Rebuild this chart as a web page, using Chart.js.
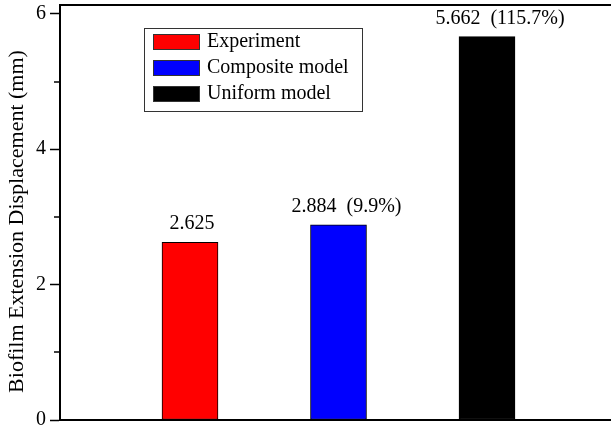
<!DOCTYPE html>
<html>
<head>
<meta charset="utf-8">
<script src="https://cdn.jsdelivr.net/npm/chart.js@4/dist/chart.umd.min.js"></script>
<style>
  html, body { margin: 0; padding: 0; background: #fff; }
  #wrap { width: 611px; height: 428px; }
</style>
</head>
<body>
<div id="wrap"><canvas id="c" width="611" height="428"></canvas></div>
<script>
// Series names, positions on the x axis and measured displacements (mm)
const seriesNames = ['Experiment', 'Composite model', 'Uniform model'];
const xPositions = [1, 2, 3];
const displacement = [2.625, 2.884, 5.662];
const valueLabels = ['2.625', '2.884  (9.9%)', '5.662  (115.7%)'];
const barColors = ['#ff0000', '#0000ff', '#000000'];
const yTicks = [0, 2, 4, 6];
const yMinorTicks = [1, 3, 5];
const yTitle = 'Biofilm Extension Displacement (mm)';

const FONT = '"Liberation Serif", "Times New Roman", serif';

const datasets = seriesNames.map((name, i) => ({
  label: name,
  data: [{ x: xPositions[i], y: displacement[i] }],
  backgroundColor: barColors[i],
  borderColor: '#000000',
  borderWidth: 1,
  borderSkipped: false,
  barThickness: 56,
  grouped: false
}));

// Frame, minor ticks, axis title, value labels and legend box
const decorations = {
  id: 'decorations',
  afterDatasetsDraw(chart, args, opts) {
    const { ctx, chartArea: a, scales: { x, y } } = chart;
    ctx.save();
    // top frame line
    ctx.strokeStyle = '#000';
    ctx.lineWidth = 2;
    ctx.beginPath();
    ctx.moveTo(a.left - 1, a.top);
    ctx.lineTo(a.right, a.top);
    ctx.stroke();
    // minor ticks on the y axis
    ctx.lineWidth = 1.5;
    yMinorTicks.forEach(v => {
      const py = Math.round(y.getPixelForValue(v));
      ctx.beginPath();
      ctx.moveTo(a.left - 6, py);
      ctx.lineTo(a.left, py);
      ctx.stroke();
    });
    // rotated y axis title
    ctx.fillStyle = '#000';
    ctx.font = '22px ' + FONT;
    ctx.textAlign = 'center';
    ctx.textBaseline = 'middle';
    ctx.save();
    ctx.translate(opts.titleX, (a.top + a.bottom) / 2 + opts.titleShift);
    ctx.rotate(-Math.PI / 2);
    ctx.fillText(yTitle, 0, 0);
    ctx.restore();
    // value labels above the bars
    ctx.font = '20px ' + FONT;
    ctx.textAlign = 'center';
    ctx.textBaseline = 'alphabetic';
    chart.data.datasets.forEach((ds, i) => {
      const pt = ds.data[0];
      const px = x.getPixelForValue(pt.x) + opts.labelNudge[i];
      const py = y.getPixelForValue(pt.y) - 13;
      ctx.fillText(valueLabels[i], px, py);
    });
    // legend box
    const L = opts.legend;
    ctx.lineWidth = 1;
    ctx.strokeStyle = '#333';
    ctx.strokeRect(L.x + 0.5, L.y + 0.5, L.w, L.h);
    ctx.textAlign = 'left';
    ctx.textBaseline = 'middle';
    chart.data.datasets.forEach((ds, i) => {
      const sy = L.y + 6 + i * 26;
      ctx.fillStyle = ds.backgroundColor;
      ctx.fillRect(L.x + 9, sy, 47, 16);
      ctx.strokeStyle = '#333';
      ctx.strokeRect(L.x + 9.5, sy + 0.5, 46, 15);
      ctx.fillStyle = '#000';
      ctx.fillText(ds.label, L.x + 63, sy + 8);
    });
    ctx.restore();
  }
};

new Chart(document.getElementById('c'), {
  type: 'bar',
  data: { datasets },
  plugins: [decorations],
  options: {
    responsive: false,
    animation: false,
    layout: { padding: { top: 5, right: 0, bottom: 0, left: 0 } },
    plugins: {
      legend: { display: false },
      tooltip: { enabled: false },
      decorations: {
        labelNudge: [2, 8, 13],
        titleX: 17,
        titleShift: 9,
        legend: { x: 144, y: 28, w: 218, h: 83 }
      }
    },
    scales: {
      x: {
        type: 'linear',
        min: 0.1246,
        max: 3.835,
        offset: false,
        grid: { display: false, drawTicks: false },
        border: { display: true, color: '#000', width: 2 },
        ticks: { display: false },
        afterFit(s) {
          s.height = 8;
          s.paddingLeft = 0; s.paddingRight = 0;
        }
      },
      y: {
        min: 0,
        max: 6.13,
        afterBuildTicks(s) { s.ticks = yTicks.map(v => ({ value: v })); },
        ticks: {
          color: '#000',
          padding: 4,
          font: { family: FONT, size: 20 }
        },
        grid: {
          drawOnChartArea: false,
          drawTicks: true,
          tickLength: 10,
          tickColor: '#000',
          tickWidth: 1.5
        },
        border: { display: true, color: '#000', width: 2 },
        title: { display: false },
        afterFit(s) {
          s.width = 60;
          s.paddingTop = 0; s.paddingBottom = 0;
        }
      }
    }
  }
});
</script>
</body>
</html>
